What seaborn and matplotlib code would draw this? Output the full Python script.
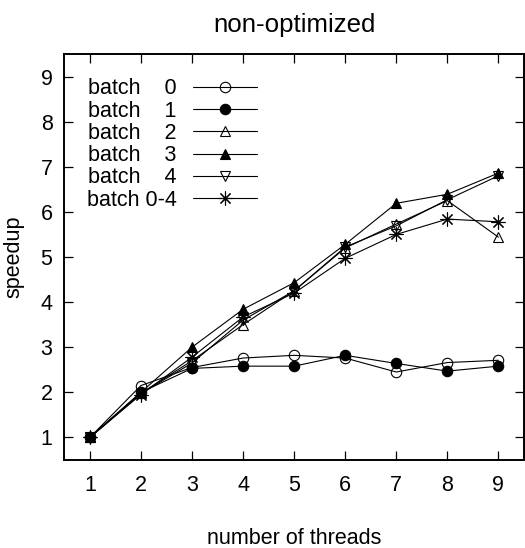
import matplotlib
matplotlib.use('Agg')
import matplotlib.pyplot as plt
import seaborn as sns

threads = [1, 2, 3, 4, 5, 6, 7, 8, 9]
batch0 = [1.0, 2.15, 2.55, 2.76, 2.82, 2.76, 2.45, 2.66, 2.71]
batch1 = [1.0, 2.00, 2.53, 2.58, 2.58, 2.82, 2.64, 2.47, 2.58]
batch2 = [1.0, 1.98, 2.70, 3.50, 4.25, 5.20, 5.73, 6.25, 5.44]
batch3 = [1.0, 2.00, 3.00, 3.84, 4.43, 5.28, 6.19, 6.39, 6.86]
batch4 = [1.0, 1.97, 2.65, 3.60, 4.25, 5.22, 5.69, 6.27, 6.80]
batch_all = [1.0, 1.95, 2.78, 3.67, 4.20, 4.97, 5.50, 5.84, 5.78]

labels = ['batch    0', 'batch    1', 'batch    2', 'batch    3', 'batch    4', 'batch 0-4']
series = [batch0, batch1, batch2, batch3, batch4, batch_all]
# marker, face colour ('none' -> open), marker size
styles = [('o', 'none', 7.5), ('o', 'black', 7.5), ('^', 'none', 7.5),
          ('^', 'black', 7.5), ('v', 'none', 7.5), ((8, 2, 0), 'black', 10)]

sns.set_style('ticks')
plt.rcParams['font.family'] = ['Liberation Sans', 'DejaVu Sans']
plt.rcParams['font.size'] = 15.5
plt.rcParams.update({'text.color': 'black', 'axes.labelcolor': 'black',
                     'xtick.color': 'black', 'ytick.color': 'black',
                     'axes.edgecolor': 'black'})

fig = plt.figure(figsize=(5.25, 5.48), dpi=100)
ax = fig.add_axes([0.1225, 0.1606, 0.8755, 0.7409])

for vals, lab, (mk, fc, ms) in zip(series, labels, styles):
    sns.lineplot(x=threads, y=vals, ax=ax, color='black', lw=0.8, marker=mk,
                 markersize=ms, markerfacecolor=fc, markeredgecolor='black',
                 markeredgewidth=0.8, label=lab)

ax.set_xlim(0.5, 9.5)
ax.set_ylim(0.5, 9.5)
ax.set_xticks(threads)
ax.set_yticks(range(1, 10))
ax.tick_params(direction='in', length=6.5, width=0.9, top=True, right=True)
ax.tick_params(axis='x', pad=11)
ax.tick_params(axis='y', pad=8.5)
for sp in ax.spines.values():
    sp.set_linewidth(1.4)
    sp.set_visible(True)

ax.set_xlabel('number of threads', labelpad=23)
ax.set_ylabel('speedup', labelpad=11.5)
ax.set_title('non-optimized', pad=15.5)

ax.legend(loc='upper left', bbox_to_anchor=(0.021, 0.972), frameon=False,
          markerfirst=False, handlelength=2.98, labelspacing=0.06,
          handletextpad=0.75, borderaxespad=0.0, borderpad=0.6)

fig.savefig('out.png', dpi=100)
